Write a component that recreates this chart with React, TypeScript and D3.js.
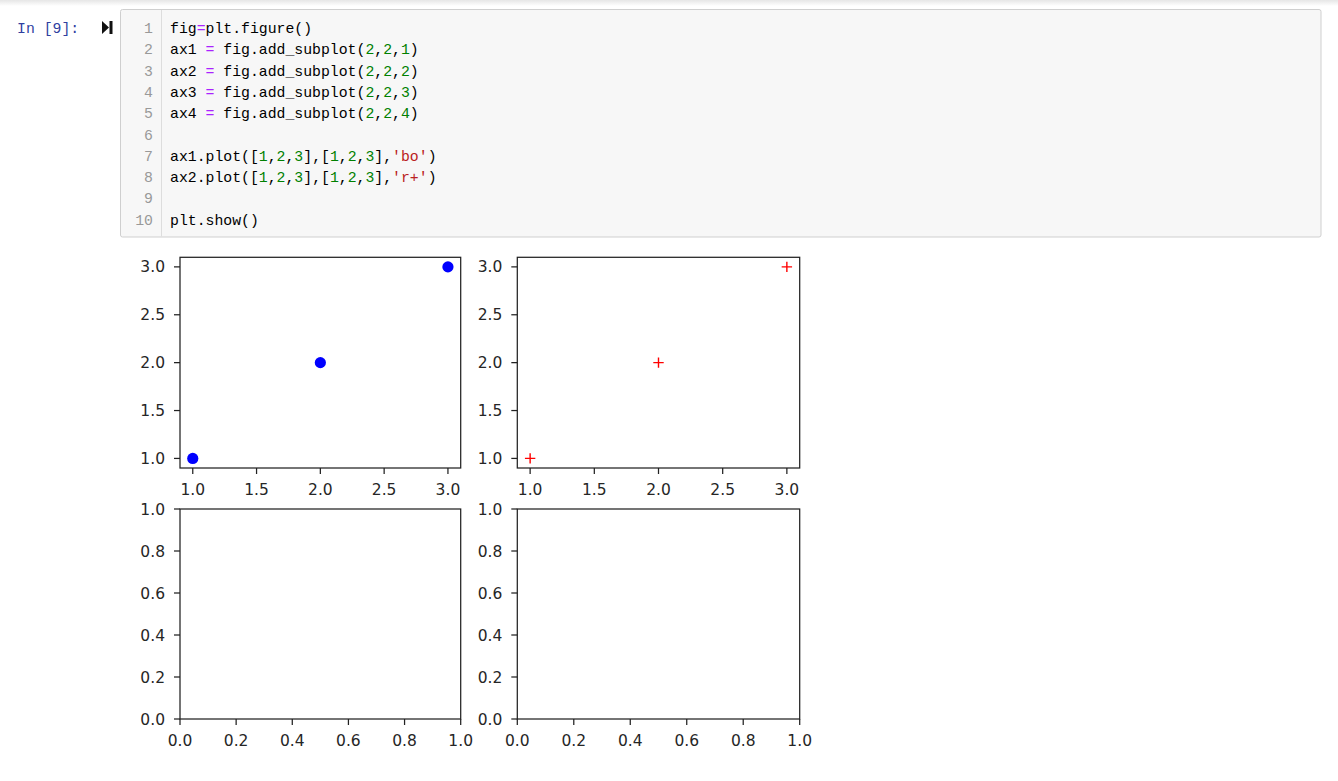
import React from "react";
import * as d3 from "d3";

// ---- data ----
const ax1X = [1, 2, 3];
const ax1Y = [1, 2, 3];
const ax2X = [1, 2, 3];
const ax2Y = [1, 2, 3];
const ticksTop = [1.0, 1.5, 2.0, 2.5, 3.0];
const ticksBottom = [0.0, 0.2, 0.4, 0.6, 0.8, 1.0];
const domainTop: [number, number] = [0.9, 3.1];
const domainBottom: [number, number] = [0, 1];

type Tok = [string, string];
const K = "#000";
const OP = "#AA22FF";
const NUM = "#008000";
const STR = "#BA2121";
const codeLines: Tok[][] = [
  [["fig", K], ["=", OP], ["plt.figure()", K]],
  [["ax1 ", K], ["=", OP], [" fig.add_subplot(", K], ["2", NUM], [",", K], ["2", NUM], [",", K], ["1", NUM], [")", K]],
  [["ax2 ", K], ["=", OP], [" fig.add_subplot(", K], ["2", NUM], [",", K], ["2", NUM], [",", K], ["2", NUM], [")", K]],
  [["ax3 ", K], ["=", OP], [" fig.add_subplot(", K], ["2", NUM], [",", K], ["2", NUM], [",", K], ["3", NUM], [")", K]],
  [["ax4 ", K], ["=", OP], [" fig.add_subplot(", K], ["2", NUM], [",", K], ["2", NUM], [",", K], ["4", NUM], [")", K]],
  [],
  [["ax1.plot([", K], ["1", NUM], [",", K], ["2", NUM], [",", K], ["3", NUM], ["],[", K], ["1", NUM], [",", K], ["2", NUM], [",", K], ["3", NUM], ["],", K], ["'bo'", STR], [")", K]],
  [["ax2.plot([", K], ["1", NUM], [",", K], ["2", NUM], [",", K], ["3", NUM], ["],[", K], ["1", NUM], [",", K], ["2", NUM], [",", K], ["3", NUM], ["],", K], ["'r+'", STR], [")", K]],
  [],
  [["plt.show()", K]],
];

const W = 1338;
const H = 781;
const MONO = "'Liberation Mono', 'DejaVu Sans Mono', monospace";
const SANS = "'DejaVu Sans', sans-serif";
const TXT = "#262626";

type AxProps = {
  x0: number; x1: number; y0: number; y1: number;
  xd: [number, number]; yd: [number, number];
  ticks: number[];
  children?: (xs: d3.ScaleLinear<number, number>, ys: d3.ScaleLinear<number, number>) => React.ReactNode;
};

function Axes({ x0, x1, y0, y1, xd, yd, ticks, children }: AxProps) {
  const xs = d3.scaleLinear().domain(xd).range([x0, x1]);
  const ys = d3.scaleLinear().domain(yd).range([y1, y0]);
  const fmt = d3.format(".1f");
  const tl = 6;
  const fs = 15.5;
  return (
    <g>
      <rect x={x0} y={y0} width={x1 - x0} height={y1 - y0} fill="#fff" />
      {children && children(xs, ys)}
      <rect x={x0} y={y0} width={x1 - x0} height={y1 - y0} fill="none" stroke="#222" strokeWidth={1.25} />
      {ticks.map((t) => (
        <g key={"x" + t}>
          <line x1={xs(t)} x2={xs(t)} y1={y1} y2={y1 + tl} stroke="#222" strokeWidth={1.25} />
          <text x={xs(t)} y={y1 + 26.5} textAnchor="middle" fontFamily={SANS} fontSize={fs} fill={TXT}>{fmt(t)}</text>
        </g>
      ))}
      {ticks.map((t) => (
        <g key={"y" + t}>
          <line x1={x0 - tl} x2={x0} y1={ys(t)} y2={ys(t)} stroke="#222" strokeWidth={1.25} />
          <text x={x0 - tl - 9} y={ys(t)} dy="0.36em" textAnchor="end" fontFamily={SANS} fontSize={fs} fill={TXT}>{fmt(t)}</text>
        </g>
      ))}
    </g>
  );
}

export default function App() {
  const col1: [number, number] = [180, 460.7];
  const col2: [number, number] = [517.3, 799.7];
  const row1: [number, number] = [257.3, 468];
  const row2: [number, number] = [509, 719];
  const lineH = 21.3;
  const base0 = 33;
  const codeX = 170;
  return (
    <svg width={W} height={H} style={{ position: "absolute", left: 0, top: 0, background: "#fff" }}>
      <defs>
        <linearGradient id="topShade" x1="0" y1="0" x2="0" y2="1">
          <stop offset="0" stopColor="#e6e6e6" />
          <stop offset="1" stopColor="#ffffff" />
        </linearGradient>
      </defs>
      <rect x={0} y={0} width={W} height={H} fill="#fff" />
      <rect x={0} y={0} width={W} height={6} fill="url(#topShade)" />

      {/* prompt */}
      <text x={17} y={base0} fontFamily={MONO} fontSize={14.8} fill="#303F9F">In [9]:</text>
      <path d="M102,21 L109,27.5 L102,34 Z" fill="#111" />
      <rect x={109.5} y={21} width={3} height={13} fill="#111" />

      {/* code cell */}
      <rect x={120.5} y={9.5} width={1200.5} height={227.5} rx={2} fill="#F7F7F7" stroke="#CFCFCF" strokeWidth={1} />
      <line x1={161.5} x2={161.5} y1={10} y2={236.5} stroke="#DDDDDD" strokeWidth={1} />
      {codeLines.map((toks, i) => (
        <g key={i}>
          <text x={153} y={base0 + i * lineH} textAnchor="end" fontFamily={MONO} fontSize={14.8} fill="#999">{i + 1}</text>
          <text x={codeX} y={base0 + i * lineH} fontFamily={MONO} fontSize={14.8} xmlSpace="preserve" style={{ whiteSpace: "pre" }}>
            {toks.map((t, j) => (
              <tspan key={j} fill={t[1]}>{t[0]}</tspan>
            ))}
          </text>
        </g>
      ))}

      {/* subplots */}
      <Axes x0={col1[0]} x1={col1[1]} y0={row1[0]} y1={row1[1]} xd={domainTop} yd={domainTop} ticks={ticksTop}>
        {(xs, ys) => ax1X.map((v, i) => (
          <circle key={i} cx={xs(v)} cy={ys(ax1Y[i])} r={5.6} fill="#0000FF" />
        ))}
      </Axes>
      <Axes x0={col2[0]} x1={col2[1]} y0={row1[0]} y1={row1[1]} xd={domainTop} yd={domainTop} ticks={ticksTop}>
        {(xs, ys) => ax2X.map((v, i) => (
          <path key={i} d={`M${xs(v) - 5.2},${ys(ax2Y[i])}h10.4M${xs(v)},${ys(ax2Y[i]) - 5.2}v10.4`} stroke="#FF0000" strokeWidth={1.4} fill="none" />
        ))}
      </Axes>
      <Axes x0={col1[0]} x1={col1[1]} y0={row2[0]} y1={row2[1]} xd={domainBottom} yd={domainBottom} ticks={ticksBottom} />
      <Axes x0={col2[0]} x1={col2[1]} y0={row2[0]} y1={row2[1]} xd={domainBottom} yd={domainBottom} ticks={ticksBottom} />
    </svg>
  );
}
